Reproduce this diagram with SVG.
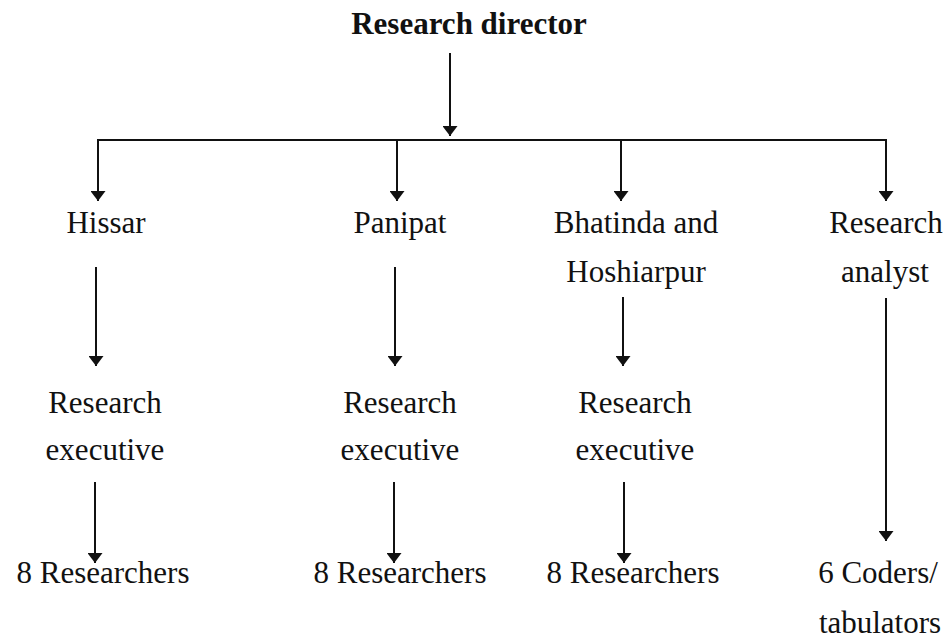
<svg xmlns="http://www.w3.org/2000/svg" width="952" height="644" viewBox="0 0 952 644">
<style>
text{font-family:"Liberation Serif","Times New Roman",serif;font-size:31px;fill:#111;text-anchor:middle}
.b{font-weight:bold}
.c{stroke:#111;stroke-width:2;fill:none}
.a{marker-end:url(#ah)}
</style>
<defs>
<marker id="ah" markerUnits="userSpaceOnUse" markerWidth="10" markerHeight="15" viewBox="0 0 10 15" refX="10" refY="7.5" orient="auto">
<path d="M0,0 L10,7.5 L0,15 Z" fill="#111"/>
</marker>
</defs>
<rect width="952" height="644" fill="#fff"/>
<g id="connectors">
<line class="c a" x1="450" y1="53" x2="450" y2="136"/>
<polyline class="c" points="98,200 98,140 886,140 886,200"/>
<line class="c a" x1="98" y1="140" x2="98" y2="201"/>
<line class="c a" x1="397" y1="140" x2="397" y2="201"/>
<line class="c a" x1="621" y1="140" x2="621" y2="201"/>
<line class="c a" x1="886" y1="140" x2="886" y2="201"/>
<line class="c a" x1="96" y1="267" x2="96" y2="366"/>
<line class="c a" x1="395" y1="267" x2="395" y2="366"/>
<line class="c a" x1="623" y1="297" x2="623" y2="366"/>
<line class="c a" x1="886" y1="298" x2="886" y2="541"/>
<line class="c a" x1="95" y1="482" x2="95" y2="563"/>
<line class="c a" x1="394" y1="482" x2="394" y2="563"/>
<line class="c a" x1="624" y1="482" x2="624" y2="563"/>
</g>
<g id="director"><text class="b" x="469" y="34">Research director</text></g>
<g id="hissar"><text x="106" y="233">Hissar</text></g>
<g id="panipat"><text x="400" y="233">Panipat</text></g>
<g id="bhatinda"><text x="636" y="233">Bhatinda and</text><text x="636" y="282">Hoshiarpur</text></g>
<g id="analyst"><text x="886" y="233">Research</text><text x="885" y="282">analyst</text></g>
<g id="exec1"><text x="105" y="413">Research</text><text x="105" y="460">executive</text></g>
<g id="exec2"><text x="400" y="413">Research</text><text x="400" y="460">executive</text></g>
<g id="exec3"><text x="635" y="413">Research</text><text x="635" y="460">executive</text></g>
<g id="res1"><text x="103" y="583">8 Researchers</text></g>
<g id="res2"><text x="400" y="583">8 Researchers</text></g>
<g id="res3"><text x="633" y="583">8 Researchers</text></g>
<g id="coders"><text x="878" y="583">6 Coders/</text><text x="880" y="633">tabulators</text></g>
</svg>
